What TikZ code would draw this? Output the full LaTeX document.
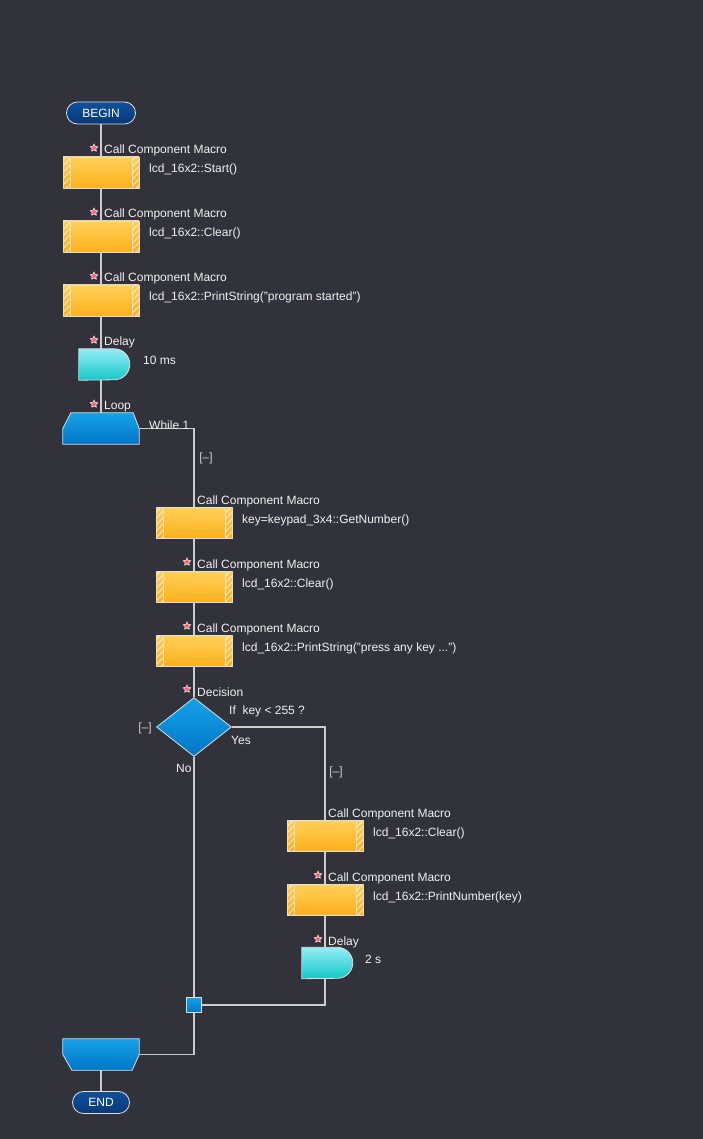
\documentclass[tikz,border=0pt]{standalone}
\usepackage{fontspec}
\setmainfont{Liberation Sans}
\usepackage{tikz}
\usetikzlibrary{positioning,calc}
\usetikzlibrary{shapes.geometric,patterns.meta}
\definecolor{bgdark}{RGB}{49,50,58}
\definecolor{wirec}{RGB}{205,205,205}
\definecolor{rim}{RGB}{222,222,222}
\definecolor{orgtop}{RGB}{255,208,88}
\definecolor{orgbot}{RGB}{255,176,28}
\definecolor{cyntop}{RGB}{150,236,246}
\definecolor{cynbot}{RGB}{18,200,200}
\definecolor{blutop}{RGB}{22,162,232}
\definecolor{blubot}{RGB}{0,118,198}
\definecolor{navtop}{RGB}{16,80,152}
\definecolor{navbot}{RGB}{6,56,122}
\definecolor{starred}{RGB}{255,90,110}
\def\txtsize{\fontsize{12}{14}\selectfont}
\def\starat(#1,#2){\node[starmark] (#1) at (#2) {};}
\tikzstyle{txt} = [inner sep=0pt, text=white!95!black, font=\txtsize]
\tikzstyle{fold} = [inner sep=0pt, text=wirec, font=\txtsize]
\tikzstyle{term} = [rectangle, rounded corners=11pt, draw=rim, line width=0.8pt, top color=navtop, bottom color=navbot, inner sep=0pt, minimum height=22pt, text=white, font=\txtsize]
\tikzstyle{callbox} = [rectangle, minimum width=76pt, minimum height=31pt, inner sep=0pt, draw=rim, line width=0.8pt, top color=orgtop, bottom color=orgbot,
  path picture={
    \fill[pattern={Lines[angle=45,distance=4.5pt,line width=0.7pt]}, pattern color=white!80!orgtop] (path picture bounding box.north west) rectangle ([xshift=7pt]path picture bounding box.south west);
    \fill[pattern={Lines[angle=45,distance=4.5pt,line width=0.7pt]}, pattern color=white!80!orgtop] ([xshift=-7pt]path picture bounding box.north east) rectangle (path picture bounding box.south east);
    \draw[rim, line width=0.6pt] ([xshift=7pt]path picture bounding box.north west) -- ([xshift=7pt]path picture bounding box.south west)
      ([xshift=-7pt]path picture bounding box.north east) -- ([xshift=-7pt]path picture bounding box.south east);
  }]
\tikzstyle{slot} = [rectangle, inner sep=0pt, minimum width=76pt, minimum height=31pt]
\tikzstyle{delaybox} = [rectangle, inner sep=0pt, minimum width=51pt, minimum height=31pt]
\tikzstyle{decbox} = [diamond, aspect=1.27, minimum width=75pt, minimum height=59pt, inner sep=0pt, draw=rim, line width=0.8pt, top color=blutop, bottom color=blubot]
\tikzstyle{junc} = [rectangle, minimum size=15pt, inner sep=0pt, draw=rim, line width=0.8pt, top color=blutop, bottom color=blubot]
\tikzstyle{starmark} = [star, star points=5, star point ratio=2.1, minimum size=8pt, inner sep=0pt, fill=starred, draw=white, line width=0.5pt]
\tikzstyle{link} = [draw=wirec, line width=1.2pt]
\tikzstyle{loopfill} = [draw=rim, line width=0.8pt, top color=blutop, bottom color=blubot]
\tikzstyle{delayfill} = [draw=rim, line width=0.8pt, top color=cyntop, bottom color=cynbot]

\begin{document}
\begin{tikzpicture}[x=1pt,y=-1pt]
      \useasboundingbox (0,0) rectangle (703,1139);
      \fill[bgdark] (0,0) rectangle (703,1139);
      %%%%%%%%%%%%%%%%%%%%%%%%%%%%%%%%%%%%%%%
      \draw (101,113) node (v1) [term, minimum width=69pt] {BEGIN};
      \draw (101,172.5) node (v2) [callbox] {};
      \draw (101,236.5) node (v3) [callbox] {};
      \draw (101,300.5) node (v4) [callbox] {};
      \draw (104.5,364.5) node (v5) [delaybox] {};
      \draw (101,428.5) node (v6) [slot] {};
      \draw (194,522.5) node (v7) [callbox] {};
      \draw (194,586.5) node (v8) [callbox] {};
      \draw (194,650.5) node (v9) [callbox] {};
      \draw (194,727) node (v10) [decbox] {};
      \draw (325,835.5) node (v11) [callbox] {};
      \draw (325,899.5) node (v12) [callbox] {};
      \draw (327.5,963) node (v13) [delaybox] {};
      \draw (194,1005) node (v14) [junc] {};
      \draw (101,1054.5) node (v15) [slot] {};
      \draw (101,1102.5) node (v16) [term, minimum width=57pt] {END};
      %delay, loop shapes
      \shade[delayfill] (v5.north west) -- ($(v5.north west)+(35.5,0)$) arc[start angle=-90, end angle=90, radius=15.5] -- (v5.south west) -- cycle;
      \shade[delayfill] (v13.north west) -- ($(v13.north west)+(35.5,0)$) arc[start angle=-90, end angle=90, radius=15.5] -- (v13.south west) -- cycle;
      \shade[loopfill] ($(v6.north west)+(8,0)$) -- ($(v6.north east)+(-6,0)$) -- (v6.east) -- (v6.south east) -- (v6.south west) -- (v6.west) -- cycle;
      \shade[loopfill] (v15.north west) -- (v15.north east) -- (v15.east) -- ($(v15.south east)+(-7,0)$) -- ($(v15.south west)+(9,0)$) -- (v15.west) -- cycle;
      %connectors
      \draw[link] (v1.south)--(v2.north);
      \draw[link] (v2.south)--(v3.north);
      \draw[link] (v3.south)--(v4.north);
      \draw[link] (v4.south)--(v4.south |- v5.north);
      \draw[link] (v4.south |- v5.south)--(v6.north);
      \draw[link] (v6.east)--(v6.east -| v7.north)--(v7.north);
      \draw[link] (v7.south)--(v8.north);
      \draw[link] (v8.south)--(v9.north);
      \draw[link] (v9.south)--(v10.north);
      \draw[link] (v10.east)--(v10.east -| v11.north)--(v11.north);
      \draw[link] (v11.south)--(v12.north);
      \draw[link] (v12.south)--(v12.south |- v13.north);
      \draw[link] (v12.south |- v13.south)--(v12.south |- v14.east)--(v14.east);
      \draw[link] (v10.south)--(v14.north);
      \draw[link] (v14.south)--(v14.south |- v15.east)--(v15.east);
      \draw[link] (v15.south)--(v16.north);
      %labels
      \starat(s2,94,148)
      \node[txt, anchor=base west] (l2) at (104,154) {Call Component Macro};
      \node[txt, anchor=base west] (d2) at (149,173) {lcd\_16x2::Start()};
      \starat(s3,94,212)
      \node[txt, anchor=base west] (l3) at (104,218) {Call Component Macro};
      \node[txt, anchor=base west] (d3) at (149,237) {lcd\_16x2::Clear()};
      \starat(s4,94,276)
      \node[txt, anchor=base west] (l4) at (104,282) {Call Component Macro};
      \node[txt, anchor=base west] (d4) at (149,301) {lcd\_16x2::PrintString("program started")};
      \starat(s5,94,340)
      \node[txt, anchor=base west] (l5) at (104,345) {Delay};
      \node[txt, anchor=base west] (d5) at (143,364) {10 ms};
      \starat(s6,94,404)
      \node[txt, anchor=base west] (l6) at (104,409) {Loop};
      \node[txt, anchor=base west] (d6) at (149,429) {While 1};
      \node[fold] (f6) at (206,458) {[–]};
      \node[txt, anchor=base west] (l7) at (197,504) {Call Component Macro};
      \node[txt, anchor=base west] (d7) at (242,523) {key=keypad\_3x4::GetNumber()};
      \starat(s8,187,562)
      \node[txt, anchor=base west] (l8) at (197,568) {Call Component Macro};
      \node[txt, anchor=base west] (d8) at (242,587) {lcd\_16x2::Clear()};
      \starat(s9,187,626)
      \node[txt, anchor=base west] (l9) at (197,632) {Call Component Macro};
      \node[txt, anchor=base west] (d9) at (242,651) {lcd\_16x2::PrintString("press any key ...")};
      \starat(s10,187,689)
      \node[txt, anchor=base west] (l10) at (197,696) {Decision};
      \node[txt, anchor=base west] (d10) at (229,714) {If\ \ key < 255 ?};
      \node[txt, anchor=base west] (y10) at (231,744) {Yes};
      \node[txt, anchor=base west] (n10) at (176,772) {No};
      \node[fold] (f10) at (145,728) {[–]};
      \node[fold] (g10) at (336,772) {[–]};
      \node[txt, anchor=base west] (l11) at (328,817) {Call Component Macro};
      \node[txt, anchor=base west] (d11) at (373,836) {lcd\_16x2::Clear()};
      \starat(s12,318,875)
      \node[txt, anchor=base west] (l12) at (328,881) {Call Component Macro};
      \node[txt, anchor=base west] (d12) at (373,900) {lcd\_16x2::PrintNumber(key)};
      \starat(s13,318,939)
      \node[txt, anchor=base west] (l13) at (328,945) {Delay};
      \node[txt, anchor=base west] (d13) at (365,963) {2 s};
\end{tikzpicture}
\end{document}
